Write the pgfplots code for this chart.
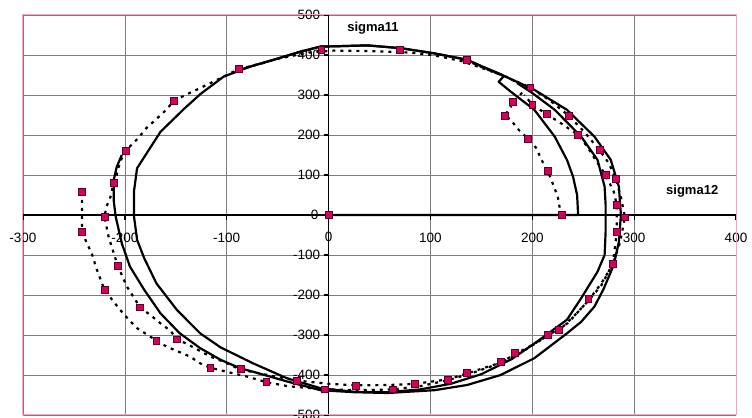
\documentclass[border=0pt]{standalone}
\usepackage{pgfplots}
\pgfplotsset{compat=1.18}
\usepackage{fontspec}
\setmainfont{Liberation Sans}
\usetikzlibrary{calc}
\definecolor{mk}{RGB}{214,0,90}
\definecolor{mkb}{RGB}{90,0,40}
\definecolor{pinkb}{RGB}{235,170,190}
\definecolor{gridc}{RGB}{125,125,125}
\begin{document}
\begin{tikzpicture}
\begin{axis}[
 scale only axis, width=713pt, height=400pt,
 xmin=-300,xmax=400,ymin=-500,ymax=500,
 axis lines=middle,
 axis line style={-, line width=1.8pt, black},
 xtick={-300,-200,...,400}, ytick={-500,-400,...,500},
 grid=major, major grid style={gridc, line width=0.7pt},
 tick align=outside, major tick length=5pt,
 tick style={black, line width=1.3pt},
 xticklabel style={font=\fontsize{13.5}{15}\selectfont, yshift=-10pt},
 yticklabel style={font=\fontsize{13.5}{15}\selectfont},
 /pgf/number format/assume math mode=true,
 clip=false,
]
\draw[pinkb, line width=1pt] (rel axis cs:0,0) rectangle (rel axis cs:1,1);
\coordinate (BL) at (rel axis cs:0,0);
\coordinate (TR) at (rel axis cs:1,1);
% solid loop 1
\addplot[black, line width=2.2pt, line join=round] coordinates {
(0,0) (245,0) (244,50) (240,96) (234,138) (222,196) (202,263) (179,308) (167,333) (172,347)
(169,352) (150,372) (136,388) (104,404) (71,417) (38,424) (10,422) (-8,421) (-28,408) (-54,388)
(-77,371) (-103,346) (-126,302) (-142,265) (-165,208) (-188,117) (-191,60) (-191,-4) (-188,-62)
(-181,-108) (-169,-171) (-149,-237) (-126,-296) (-106,-331) (-74,-371) (-41,-408) (-8,-433)
(25,-442) (58,-443) (90,-436) (120,-422) (150,-398) (180,-360) (205,-316) (234,-262) (248,-208)
(264,-142) (271,-100) (272,-42) (272,25) (271,71) (264,138) (248,196) (222,263) (200,305) (185,330)
};
% solid loop 2
\addplot[black, line width=2.2pt, line join=round] coordinates {
(-203,150) (-208,120) (-211,87) (-211,37) (-209,-4) (-203,-71) (-195,-129) (-181,-187) (-165,-246)
(-146,-296) (-126,-333) (-106,-362) (-87,-383) (-74,-392) (-41,-416) (-8,-438) (25,-443) (58,-445)
(104,-438) (136,-425) (169,-400) (202,-358) (234,-296) (248,-267) (261,-229) (270,-185) (280,-125)
(285,-67) (287,0) (285,71) (277,138) (261,196) (234,263) (202,313) (172,348) (150,372) (136,388)
(104,404) (71,417) (38,424) (10,422) (-8,421) (-28,408) (-54,388) (-77,371) (-88,362)
};
% dotted 1
\addplot[black, line width=2.2pt, dash pattern=on 3pt off 5pt] coordinates {
(230,0) (227,17) (225,46) (220,79) (215,111) (209,138) (204,167) (196,190) (185,217) (179,238)
(173,248) (179,271) (181,283) (195,318) (175,345) (150,368) (130,385) (104,399) (81,406) (38,410)
(5,411) (-20,406) (-41,395) (-54,388) (-64,380) (-88,365) (-103,346) (-115,331) (-128,315)
(-139,302) (-152,285) (-159,264) (-169,240) (-179,217) (-187,192) (-199,161) (-203,142) (-206,121)
(-208,100) (-211,81) (-214,46) (-218,21) (-220,-4) (-216,-54) (-207,-127) (-203,-150) (-198,-179)
(-185,-231) (-175,-250) (-165,-271) (-155,-290) (-149,-311) (-140,-321) (-116,-354) (-103,-367)
(-87,-386) (-60,-400) (-31,-414) (0,-422) (27,-426) (60,-425) (85,-422) (117,-411) (136,-396)
(169,-369) (183,-348) (200,-325) (215,-302) (226,-289) (240,-255) (256,-212) (268,-175) (279,-122)
(281,-83) (283,-42) (283,25) (280,58) (272,100) (262,138) (254,171) (245,200) (226,233) (214,252)
(200,276) (192,300)
};
% dotted 2
\addplot[black, line width=2.2pt, dash pattern=on 3pt off 5pt] coordinates {
(-242,58) (-242,27) (-242,-43) (-232,-100) (-228,-133) (-223,-167) (-220,-187) (-211,-217)
(-203,-242) (-196,-262) (-188,-283) (-169,-314) (-159,-329) (-147,-342) (-136,-354) (-126,-371)
(-116,-382) (-100,-392) (-80,-404) (-61,-418) (-40,-428) (-4,-436) (30,-438) (63,-436) (90,-428)
(117,-413) (140,-396) (169,-370) (190,-342) (215,-302) (235,-270) (255,-214) (268,-170) (279,-124)
(286,-70) (291,-6) (287,45) (282,90) (275,130) (266,162) (252,205) (236,248) (218,285) (198,319)
(172,347) (150,370) (136,386)
};
% markers
\addplot[only marks, mark=square*, mark size=3.4pt, mark options={fill=mk, draw=mkb, line width=0.7pt}] coordinates {
(0,0) (229,0) (291,-6) (283,-42) (279,-122) (255,-210) (226,-288) (215,-299) (183,-345) (169,-368)
(136,-394) (117,-412) (85,-422) (63,-436) (27,-427) (-4,-436) (-31,-414) (-61,-418) (-86,-385)
(-116,-382) (-149,-311) (-169,-314) (-185,-231) (-220,-187) (-207,-127) (-242,-43) (-220,-4)
(-242,58) (-211,81) (-199,161) (-152,285) (-88,365) (-7,412) (70,412) (136,388) (198,319)
(181,283) (200,276) (173,248) (214,252) (236,248) (196,190) (245,200) (266,162) (215,111)
(272,100) (282,90) (283,25)
};
\node[anchor=north, font=\fontsize{13.5}{15}\selectfont, inner sep=0pt] at ([yshift=-17pt]axis cs:0,0) {0};
\node[anchor=east, font=\fontsize{13.5}{15}\selectfont, inner sep=0pt] at ([xshift=-10pt]axis cs:0,0) {0};
\node[anchor=west, font=\bfseries\fontsize{13}{15}\selectfont] at (axis cs:15,467) {sigma11};
\node[anchor=west, font=\bfseries\fontsize{13}{15}\selectfont] at (axis cs:328,60) {sigma12};
\end{axis}
\pgfresetboundingbox
\path[use as bounding box] ($(BL)+(-23pt,-3pt)$) rectangle ($(TR)+(16pt,15pt)$);
\end{tikzpicture}
\end{document}
